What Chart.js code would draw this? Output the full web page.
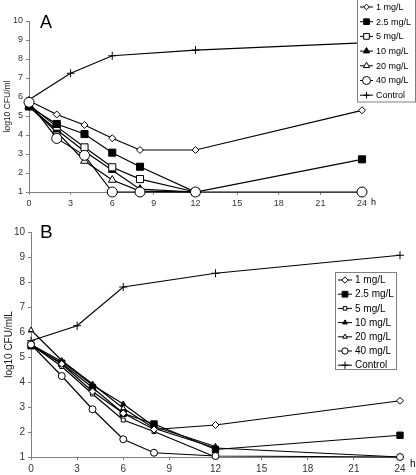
<!DOCTYPE html>
<html>
<head>
<meta charset="utf-8">
<title>log10 CFU time-kill</title>
<script src="https://cdn.jsdelivr.net/npm/chart.js@4.4.1/dist/chart.umd.min.js"></script>
<style>
  body { margin: 0; background: #fff; }
  canvas { position: absolute; left: 0; }
  #chartA { top: 0; }
  #chartB { top: 215px; }
</style>
</head>
<body>
<canvas id="chartA" width="416" height="215"></canvas>
<canvas id="chartB" width="416" height="260"></canvas>
<script>
// series labels, shared by both panels
const seriesNames = ['1 mg/L', '2.5 mg/L', '5 mg/L', '10 mg/L', '20 mg/L', '40 mg/L', 'Control'];
const xTicks = [0, 3, 6, 9, 12, 15, 18, 21, 24];

// panel A, hours and log10 CFU/ml
const hoursA = [0, 2, 4, 6, 8, 12, 24];
const a1mg   = [5.8, 5.08, 4.53, 3.83, 3.21, 3.21, 5.3];
const a2_5mg = [5.5, 4.58, 4.05, 3.07, 2.33, 1.0, 2.72];
const a5mg   = [5.6, 4.44, 3.35, 2.3, 1.68, 1.0, null];
const a10mg  = [5.5, 4.28, 3.15, 2.15, 1.15, 1.0, null];
const a20mg  = [5.5, 4.16, 2.63, 1.63, 1.05, 1.0, null];
const a40mg  = [5.72, 3.82, 2.93, 1.0, 1.0, 1.0, 1.0];
const hoursCtrlA = [0, 3, 6, 12, 24];
const aCtrl  = [5.85, 7.25, 8.17, 8.47, 8.85];

// panel B, hours and log10 CFU/mL
const hoursB = [0, 2, 4, 6, 8, 12, 24];
const b1mg   = [5.5, 4.72, 3.62, 2.75, 2.1, 2.28, 3.25];
const b2_5mg = [5.45, 4.75, 3.78, 2.75, 2.32, 1.3, 1.87];
const b5mg   = [5.5, 4.62, 3.52, 2.48, 2.02, 1.0, null];
const b10mg  = [5.5, 4.82, 3.88, 3.12, 2.22, 1.42, null];
const b20mg  = [6.08, 4.86, 3.92, 2.95, 2.15, 1.36, 1.0];
const b40mg  = [5.5, 4.24, 2.91, 1.71, 1.17, 1.04, 1.0];
const hoursCtrlB = [0, 3, 6, 12, 24];
const bCtrl  = [5.65, 6.25, 7.8, 8.35, 9.07];

const FONT = "'Liberation Sans', Arial, sans-serif";

function pts(xs, ys) {
  return xs.map((x, i) => ({ x: x, y: ys[i] })).filter(p => p.y !== null);
}

function makeSet(label, data, style, radius, filled, order) {
  return {
    label: label,
    data: data,
    order: order || 0,
    borderColor: '#000',
    borderWidth: 1.2,
    pointStyle: style,
    pointRadius: radius,
    pointHoverRadius: radius,
    pointBorderWidth: 1,
    pointBorderColor: '#000',
    pointBackgroundColor: filled ? '#000' : '#fff',
    fill: false,
    tension: 0,
    clip: false
  };
}

// draws the framed legend, the panel letter and the "h" unit
const extras = {
  id: 'extras',
  afterDraw(chart, args, o) {
    const ctx = chart.ctx;
    ctx.save();
    ctx.fillStyle = '#fff';
    ctx.fillRect(o.box[0], o.box[1], o.box[2], o.box[3]);
    ctx.strokeStyle = '#808080';
    ctx.lineWidth = 1;
    ctx.strokeRect(o.box[0], o.box[1], o.box[2], o.box[3]);
    chart.data.datasets.forEach((ds, i) => {
      const cy = o.box[1] + o.first + i * o.step;
      ctx.strokeStyle = '#000';
      ctx.lineWidth = 1;
      ctx.beginPath();
      ctx.moveTo(o.line[0], cy);
      ctx.lineTo(o.line[1], cy);
      ctx.stroke();
      ctx.fillStyle = ds.pointBackgroundColor;
      Chart.helpers.drawPoint(ctx, { pointStyle: ds.pointStyle, radius: ds.pointRadius * o.mscale, borderWidth: 1, rotation: 0 },
        (o.line[0] + o.line[1]) / 2, cy);
      ctx.fillStyle = '#000';
      ctx.font = o.fontSize + 'px ' + FONT;
      ctx.textAlign = 'left';
      ctx.textBaseline = 'middle';
      ctx.fillText(ds.label, o.textX, cy + 0.5);
    });
    ctx.fillStyle = '#000';
    ctx.font = o.letterSize + 'px ' + FONT;
    ctx.textAlign = 'left';
    ctx.textBaseline = 'alphabetic';
    ctx.fillText(o.letter, o.letterPos[0], o.letterPos[1]);
    ctx.font = o.fontSize + 'px ' + FONT;
    ctx.textBaseline = 'middle';
    ctx.fillText('h', o.hPos[0], o.hPos[1]);
    ctx.restore();
  }
};

function axes(yWidth, yTitle, tickSize, titleSize) {
  return {
    x: {
      type: 'linear', min: 0, max: 24,
      afterFit: s => { s.height = 18; },
      afterBuildTicks: s => { s.ticks = xTicks.map(v => ({ value: v })); },
      grid: { drawOnChartArea: false, drawTicks: true, tickLength: 3, color: '#808080' },
      border: { color: '#808080', width: 1 },
      ticks: { color: '#333', font: { family: FONT, size: tickSize }, padding: 3, maxRotation: 0 }
    },
    y: {
      type: 'linear', min: 1, max: 10,
      afterFit: s => { s.width = yWidth; },
      grid: { drawOnChartArea: false, drawTicks: true, tickLength: 3, color: '#808080' },
      border: { color: '#808080', width: 1 },
      ticks: { stepSize: 1, color: '#333', font: { family: FONT, size: tickSize }, padding: 3 },
      title: { display: true, text: yTitle, color: '#222', font: { family: FONT, size: titleSize }, padding: { top: 3, bottom: 0 } }
    }
  };
}

new Chart(document.getElementById('chartA'), {
  type: 'line',
  data: {
    datasets: [
      makeSet(seriesNames[0], pts(hoursA, a1mg), 'rectRot', 3.5, false),
      makeSet(seriesNames[1], pts(hoursA, a2_5mg), 'rect', 5, true),
      makeSet(seriesNames[2], pts(hoursA, a5mg), 'rect', 5, false),
      makeSet(seriesNames[3], pts(hoursA, a10mg), 'triangle', 4.5, true),
      makeSet(seriesNames[4], pts(hoursA, a20mg), 'triangle', 4.5, false),
      makeSet(seriesNames[5], pts(hoursA, a40mg), 'circle', 5, false, -1),
      makeSet(seriesNames[6], pts(hoursCtrlA, aCtrl), 'cross', 4, false)
    ]
  },
  options: {
    responsive: false,
    animation: false,
    events: [],
    layout: { padding: { top: 21, right: 54, left: 0, bottom: 5 } },
    scales: axes(29, 'log10 CFU/ml', 9, 8.5),
    plugins: {
      legend: { display: false },
      tooltip: { enabled: false },
      extras: {
        box: [357.5, -0.5, 58, 102.5], first: 7.5, step: 14.7,
        line: [360, 373], textX: 376, fontSize: 9, mscale: 0.8,
        letter: 'A', letterSize: 18, letterPos: [40, 28], hPos: [371, 203]
      }
    }
  },
  plugins: [extras]
});

new Chart(document.getElementById('chartB'), {
  type: 'line',
  data: {
    datasets: [
      makeSet(seriesNames[0], pts(hoursB, b1mg), 'rectRot', 3.5, false),
      makeSet(seriesNames[1], pts(hoursB, b2_5mg), 'rect', 4.5, true),
      makeSet(seriesNames[2], pts(hoursB, b5mg), 'rect', 2.8, false),
      makeSet(seriesNames[3], pts(hoursB, b10mg), 'triangle', 3, true),
      makeSet(seriesNames[4], pts(hoursB, b20mg), 'triangle', 3, false),
      makeSet(seriesNames[5], pts(hoursB, b40mg), 'circle', 3.5, false, -1),
      makeSet(seriesNames[6], pts(hoursCtrlB, bCtrl), 'cross', 4, false)
    ]
  },
  options: {
    responsive: false,
    animation: false,
    events: [],
    layout: { padding: { top: 17, right: 16, left: 0, bottom: 0 } },
    scales: axes(31, 'log10 CFU/mlL', 10, 10),
    plugins: {
      legend: { display: false },
      tooltip: { enabled: false },
      extras: {
        box: [335.5, 57.5, 61, 97], first: 7.5, step: 14.2,
        line: [338, 352], textX: 355, fontSize: 10, mscale: 0.9,
        letter: 'B', letterSize: 19, letterPos: [40, 23], hPos: [410, 249]
      }
    }
  },
  plugins: [extras]
});
</script>
</body>
</html>
